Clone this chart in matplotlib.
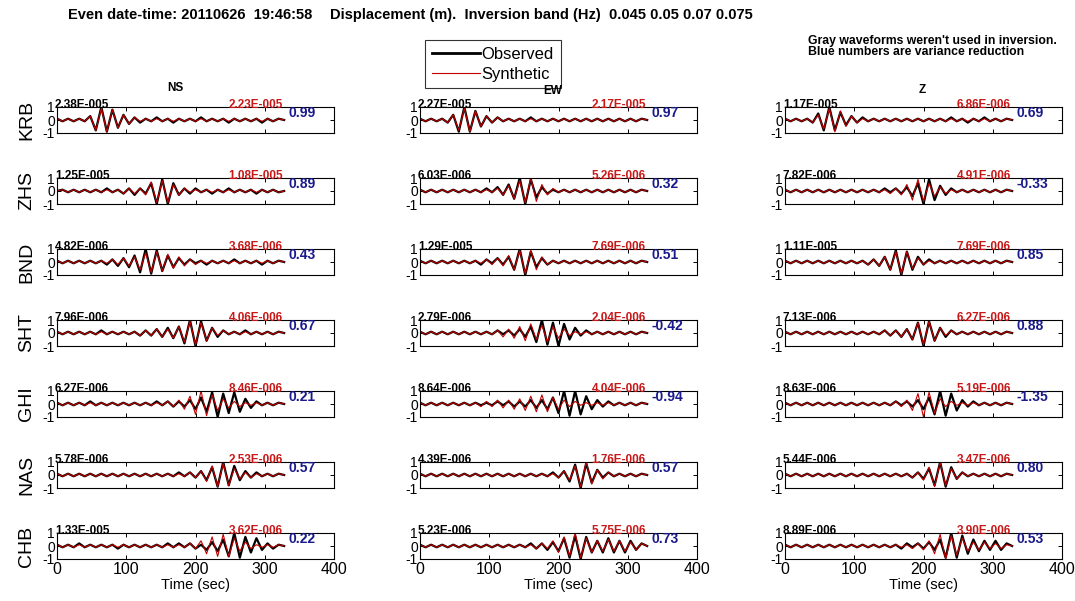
import numpy as np
import matplotlib
matplotlib.use('Agg')
import matplotlib.pyplot as plt
from matplotlib.lines import Line2D

plt.rcParams['font.family'] = ['Liberation Sans', 'DejaVu Sans']

# waveforms, one sample every DT seconds, in tenths of the normalised amplitude
DT = 8
stations = ['KRB', 'ZHS', 'BND', 'SHT', 'GHI', 'NAS', 'CHB']
components = ['NS', 'EW', 'Z']

ns_obs = [
    [1,-1,1,-1,1,-1,3,-8,10,-9,8,-6,4,-3,2,-2,1,-1,2,-1,1,-2,1,-1,1,-1,2,-1,1,-1,1,-2,1,-1,1,-1,1,-2,1,-1,1,0],
    [0,1,-1,1,-1,1,-1,1,-1,2,-1,1,-2,2,-3,2,-2,6,-10,9,-10,6,-3,2,-2,2,-1,1,-2,1,-1,2,-1,1,-1,1,-2,1,-1,1,-1,0],
    [1,-1,1,-1,1,-1,1,-1,1,-2,2,-3,3,-4,5,-8,10,-9,9,-7,5,-4,3,-2,2,-1,1,-2,1,-1,1,-1,2,-1,1,-1,1,-2,1,-1,1,0],
    [1,-1,1,-1,1,-1,1,-1,2,-1,1,-1,1,-1,1,-2,2,-2,3,-3,4,-4,5,-8,10,-10,9,-6,4,-3,2,-1,1,-1,2,-1,1,-1,1,-1,1,0],
    [1,-1,1,-1,1,-1,2,-1,1,-1,1,-1,1,-1,1,-1,1,-1,2,-1,2,-2,2,-2,3,-4,5,-6,9,-10,8,-7,9,-6,4,-3,2,-1,1,-1,1,0],
    [1,-1,1,-1,1,-1,1,-1,1,-1,1,-1,1,-1,1,-1,1,-1,1,-1,1,-1,2,-1,2,-2,3,-4,6,-9,10,-8,7,-4,3,-2,2,-1,1,-1,1,0],
    [1,-1,1,-1,2,-1,1,-1,1,-1,1,-2,1,-1,1,-1,1,-1,1,-1,2,-1,2,-1,2,-2,1,-3,3,-4,5,-8,10,-9,7,-5,6,-3,2,-2,1,0],
]
ns_syn = [
    [1,-1,1,-1,1,-1,3,-8,9,-9,8,-6,4,-3,2,-1,1,-1,1,-1,1,-1,1,-1,1,-1,1,-1,1,-1,1,-1,1,-1,1,-1,1,-1,1,-1,1,0],
    [0,1,-1,1,-1,1,-1,1,-1,1,-1,1,-2,2,-2,2,-3,7,-9,8,-9,5,-3,2,-1,1,-1,1,-1,1,-1,1,-1,1,-1,1,-1,1,-1,1,-1,0],
    [1,-1,1,-1,1,-1,1,-1,1,-1,2,-2,3,-3,4,-6,7,-8,8,-7,6,-5,4,-3,2,-2,1,-1,1,-1,1,-1,1,-1,1,-1,1,-1,1,-1,1,0],
    [1,-1,1,-1,1,-1,1,-1,1,-1,1,-1,1,-1,1,-2,2,-2,3,-3,3,-4,5,-7,9,-9,8,-6,4,-2,2,-1,1,-1,1,-1,1,-1,1,-1,1,0],
    [1,-1,1,-1,1,-1,1,-1,1,-1,1,-1,1,-1,1,-1,1,-1,1,-1,2,-2,3,-4,6,-8,10,-9,7,-5,4,-3,2,-2,1,-1,1,-1,1,-1,1,0],
    [1,-1,1,-1,1,-1,1,-1,1,-1,1,-1,1,-1,1,-1,1,-1,1,-1,1,-1,1,-1,2,-2,3,-5,7,-9,9,-8,5,-3,2,-2,1,-1,1,-1,1,0],
    [1,-1,1,-1,1,-1,1,-1,1,-1,1,-1,1,-1,1,-1,1,-1,1,-1,1,-1,1,-1,2,-2,4,-6,7,-8,9,-8,6,-4,3,-2,1,-1,1,-1,1,0],
]
ew_obs = [
    [1,-1,1,-1,1,-2,4,-9,10,-9,7,-5,3,-2,2,-1,1,-1,1,-1,2,-1,1,-1,1,-1,1,-1,1,-1,1,-1,1,-1,1,-1,1,-1,1,-1,1,0],
    [1,-1,1,-1,1,-1,1,-1,1,-1,1,-1,2,-1,3,-3,5,-6,10,-10,9,-5,3,-2,1,-1,1,-1,1,-1,1,-1,1,-1,1,-1,1,-1,1,-1,1,0],
    [1,-1,1,-1,1,-1,1,-1,1,-1,1,-2,2,-1,3,-2,4,-6,10,-10,8,-4,3,-2,1,-1,1,-1,1,-1,1,-1,1,-1,1,-1,1,-1,1,-1,1,0],
    [1,-1,1,-1,1,-1,1,-1,1,-1,1,-1,1,-1,2,-1,2,-2,3,-3,5,-7,10,-9,8,-10,7,-5,4,-2,2,-1,1,-1,1,-1,1,-1,1,-1,1,0],
    [1,-1,1,-1,1,-1,1,-1,1,-1,1,-1,1,-1,2,-1,2,-2,2,-2,3,-3,3,-4,5,-7,10,-9,10,-8,6,-4,3,-2,2,-1,1,-1,1,-1,1,0],
    [1,-1,1,-1,1,-1,1,-1,1,-1,1,-1,1,-1,1,-1,1,-1,1,-1,1,-1,1,-1,2,-2,3,-5,8,-10,9,-6,4,-2,2,-1,1,-1,1,-1,1,0],
    [1,-1,1,-1,1,-1,1,-1,1,-1,1,-1,1,-1,1,-1,1,-1,1,-1,2,-2,2,-3,3,-4,6,-9,8,-10,7,-5,4,-5,6,-5,4,-5,4,-3,2,0],
]
ew_syn = [
    [1,-1,1,-1,1,-2,4,-8,9,-9,7,-5,3,-2,2,-1,1,-1,1,-1,1,-1,1,-1,1,-1,1,-1,1,-1,1,-1,1,-1,1,-1,1,-1,1,-1,1,0],
    [1,-1,1,-1,1,-1,1,-1,1,-1,1,-1,1,-1,2,-3,4,-6,8,-9,10,-8,5,-3,2,-1,1,-1,1,-1,1,-1,1,-1,1,-1,1,-1,1,-1,1,0],
    [1,-1,1,-1,1,-1,1,-1,1,-1,1,-1,2,-2,3,-3,5,-6,9,-9,9,-6,4,-2,1,-1,1,-1,1,-1,1,-1,1,-1,1,-1,1,-1,1,-1,1,0],
    [1,-1,1,-1,1,-1,1,-1,1,-1,1,-1,1,-1,2,-3,3,-4,5,-6,7,-5,6,-7,5,-4,3,-2,1,-1,1,-1,1,-1,1,-1,1,-1,1,-1,1,0],
    [1,-1,1,-1,1,-1,1,-1,1,-1,1,-2,2,-2,3,-3,3,-4,4,-5,6,-6,7,-6,5,-4,3,-2,2,-1,1,-1,1,-1,1,-1,1,-1,1,-1,1,0],
    [1,-1,1,-1,1,-1,1,-1,1,-1,1,-1,1,-1,1,-1,1,-1,1,-1,1,-1,1,-1,1,-2,3,-4,7,-9,10,-7,4,-3,2,-1,1,-1,1,-1,1,0],
    [1,-1,1,-1,1,-1,1,-1,1,-1,1,-1,1,-1,1,-1,1,-1,1,-1,1,-2,2,-2,4,-5,7,-8,10,-9,6,-5,4,-4,5,-4,4,-4,3,-3,2,0],
]
z_obs = [
    [1,-1,1,-1,1,-2,5,-8,10,-8,6,-4,3,-2,2,-1,1,-1,1,-1,1,-1,1,-1,1,-1,1,-1,1,-1,2,-1,1,-2,1,-1,2,-1,1,-1,1,0],
    [1,-1,1,-1,1,-1,1,-1,1,-1,1,-1,1,-1,1,-1,1,-1,2,-1,2,-2,3,-4,6,-10,9,-7,4,-3,2,-1,1,-1,1,-1,1,-1,1,-1,1,0],
    [1,-1,1,-1,1,-1,1,-1,1,-1,1,-1,1,-1,1,-2,2,-3,4,-6,9,-10,8,-6,4,-2,2,-1,1,-1,1,-1,1,-1,1,-1,1,-1,1,-1,1,0],
    [1,-1,1,-1,1,-1,1,-1,1,-1,1,-1,1,-1,1,-1,1,-1,2,-2,2,-3,3,-5,8,-10,9,-6,4,-3,2,-1,1,-1,1,-1,1,-1,1,-1,1,0],
    [1,-1,1,-1,1,-1,1,-1,1,-1,1,-1,1,-1,1,-1,1,-1,1,-1,2,-1,2,-2,3,-4,5,-8,10,-9,8,-5,3,-2,2,-1,1,-1,1,-1,1,0],
    [1,-1,1,-1,1,-1,1,-1,1,-1,1,-1,1,-1,1,-1,1,-1,1,-1,1,-1,1,-2,2,-3,5,-8,10,-9,6,-3,2,-1,1,-1,1,-1,1,-1,1,0],
    [1,-1,1,-1,1,-1,1,-1,1,-1,1,-1,1,-1,1,-1,1,-1,1,-1,1,-2,2,-1,2,-2,3,-3,5,-9,10,-9,8,-6,5,-4,4,-3,4,-3,2,0],
]
z_syn = [
    [1,-1,1,-1,1,-2,4,-7,9,-9,7,-5,3,-2,1,-1,1,-1,1,-1,1,-1,1,-1,1,-1,1,-1,1,-1,1,-1,1,-1,1,-1,1,-1,1,-1,1,0],
    [1,-1,1,-1,1,-1,1,-1,1,-1,1,-1,1,-1,1,-1,1,-1,1,-2,2,-3,5,-7,9,-8,6,-4,3,-2,1,-1,1,-1,1,-1,1,-1,1,-1,1,0],
    [1,-1,1,-1,1,-1,1,-1,1,-1,1,-1,1,-1,1,-2,2,-3,4,-6,8,-9,8,-5,3,-2,1,-1,1,-1,1,-1,1,-1,1,-1,1,-1,1,-1,1,0],
    [1,-1,1,-1,1,-1,1,-1,1,-1,1,-1,1,-1,1,-1,1,-1,2,-2,2,-3,3,-5,8,-9,9,-6,4,-2,2,-1,1,-1,1,-1,1,-1,1,-1,1,0],
    [1,-1,1,-1,1,-1,1,-1,1,-1,1,-1,1,-1,1,-1,1,-1,1,-1,2,-2,3,-5,8,-10,9,-7,4,-2,2,-1,1,-1,1,-1,1,-1,1,-1,1,0],
    [1,-1,1,-1,1,-1,1,-1,1,-1,1,-1,1,-1,1,-1,1,-1,1,-1,1,-1,1,-2,2,-4,6,-9,10,-8,5,-3,2,-1,1,-1,1,-1,1,-1,1,0],
    [1,-1,1,-1,1,-1,1,-1,1,-1,1,-1,1,-1,1,-1,1,-1,1,-1,1,-1,1,-2,2,-3,4,-6,9,-10,8,-7,6,-4,3,-3,3,-2,2,-2,1,0],
]

# peak amplitudes (m) and variance reduction, station order as above
ns_amp_obs = [2.38e-5, 1.25e-5, 4.82e-6, 7.96e-6, 6.27e-6, 5.78e-6, 1.33e-5]
ns_amp_syn = [2.23e-5, 1.08e-5, 3.68e-6, 4.06e-6, 8.46e-6, 2.53e-6, 3.62e-6]
ns_vr = [0.99, 0.89, 0.43, 0.67, 0.21, 0.57, 0.22]
ew_amp_obs = [2.27e-5, 6.03e-6, 1.29e-5, 2.79e-6, 8.64e-6, 4.39e-6, 5.23e-6]
ew_amp_syn = [2.17e-5, 5.26e-6, 7.69e-6, 2.04e-6, 4.04e-6, 1.76e-6, 5.75e-6]
ew_vr = [0.97, 0.32, 0.51, -0.42, -0.94, 0.57, 0.73]
z_amp_obs = [1.17e-5, 7.82e-6, 1.11e-5, 7.13e-6, 8.63e-6, 5.44e-6, 8.89e-6]
z_amp_syn = [6.86e-6, 4.91e-6, 7.69e-6, 6.27e-6, 5.19e-6, 3.47e-6, 3.90e-6]
z_vr = [0.69, -0.33, 0.85, 0.88, -1.35, 0.80, 0.53]

obs = [ns_obs, ew_obs, z_obs]
syn = [ns_syn, ew_syn, z_syn]
amp_obs = [ns_amp_obs, ew_amp_obs, z_amp_obs]
amp_syn = [ns_amp_syn, ew_amp_syn, z_amp_syn]
vr = [ns_vr, ew_vr, z_vr]


def matlab_e(v):
    # MATLAB style 2.38E-005
    m, e = f'{v:.2E}'.split('E')
    e = int(e)
    return f'{m}E{"-" if e < 0 else "+"}{abs(e):03d}'


W, H = 1075, 601
fig = plt.figure(figsize=(W / 100, H / 100), dpi=100)

col_left = [57, 420, 785]
row_top = [107, 178, 249, 320, 391, 462, 533]
box_w, box_h = 277, 26

RED = '#c81818'
BLUE = '#1a1a8c'

for c, comp in enumerate(components):
    for r, sta in enumerate(stations):
        ax = fig.add_axes([col_left[c] / W, 1 - (row_top[r] + box_h) / H, box_w / W, box_h / H])
        o = np.array(obs[c][r]) / 10
        s = np.array(syn[c][r]) / 10
        ax.plot(DT * np.arange(len(o)), o, color='black', lw=1.6)
        ax.plot(DT * np.arange(len(s)), s, color='#c00000', lw=0.8)
        ax.set_xlim(0, 400)
        ax.set_ylim(-1, 1)
        ax.set_yticks([-1, 0, 1])
        ax.set_yticklabels(['-1', '0', '1'])
        ax.set_xticks([0, 100, 200, 300, 400])
        ax.tick_params(direction='in', top=True, right=True, length=3, width=0.7, pad=2)
        ax.tick_params(axis='x', labelsize=11.5)
        ax.tick_params(axis='y', labelsize=10, pad=1.5)
        for sp in ax.spines.values():
            sp.set_linewidth(0.8)
        if r < len(stations) - 1:
            ax.tick_params(labelbottom=False)
        else:
            ax.set_xlabel('Time (sec)', fontsize=10.5, labelpad=1)
        ax.text(-3, 0.93, matlab_e(amp_obs[c][r]), fontsize=8.5, fontweight='bold',
                va='baseline', ha='left', clip_on=False)
        ax.text(326, 0.93, matlab_e(amp_syn[c][r]), fontsize=8.5, fontweight='bold',
                color=RED, va='baseline', ha='right', clip_on=False)
        ax.text(335, 0.55, f'{vr[c][r]:.2f}', fontsize=10, fontweight='bold',
                color=BLUE, va='center', ha='left', clip_on=False)
        if c == 0:
            fig.text(27 / W, 1 - (row_top[r] + box_h / 2) / H, sta, rotation=90,
                     fontsize=14, ha='center', va='center')

fig.text(68 / W, 1 - 15 / H, 'Even date-time: 20110626  19:46:58', fontsize=10.5,
         fontweight='bold', va='center')
fig.text(330 / W, 1 - 15 / H, 'Displacement (m).  Inversion band (Hz)  0.045 0.05 0.07 0.075',
         fontsize=10.5, fontweight='bold', va='center')
fig.text(808 / W, 1 - 35 / H, "Gray waveforms weren't used in inversion.\nBlue numbers are variance reduction",
         fontsize=8.8, fontweight='bold', va='top', linespacing=0.9)

handles = [Line2D([], [], color='black', lw=2), Line2D([], [], color='#c00000', lw=0.8)]
leg = fig.legend(handles, ['Observed', 'Synthetic'], loc='upper left',
                 bbox_to_anchor=(425 / W, 1 - 40 / H), fontsize=12, frameon=True,
                 fancybox=False, handlelength=2.9, handletextpad=0.1, borderpad=0.4,
                 labelspacing=0.3, borderaxespad=0)
leg.get_frame().set_edgecolor('black')
leg.get_frame().set_linewidth(0.8)
leg.set_zorder(1)

# column titles (EW sits over the legend corner as in the original)
for comp, x, y in zip(components, [175, 553, 922], [88, 91, 90]):
    t = fig.text(x / W, 1 - y / H, comp, fontsize=8.5, fontweight='bold', ha='center', va='center')
    t.set_zorder(5)

fig.savefig('out.png', dpi=100)
